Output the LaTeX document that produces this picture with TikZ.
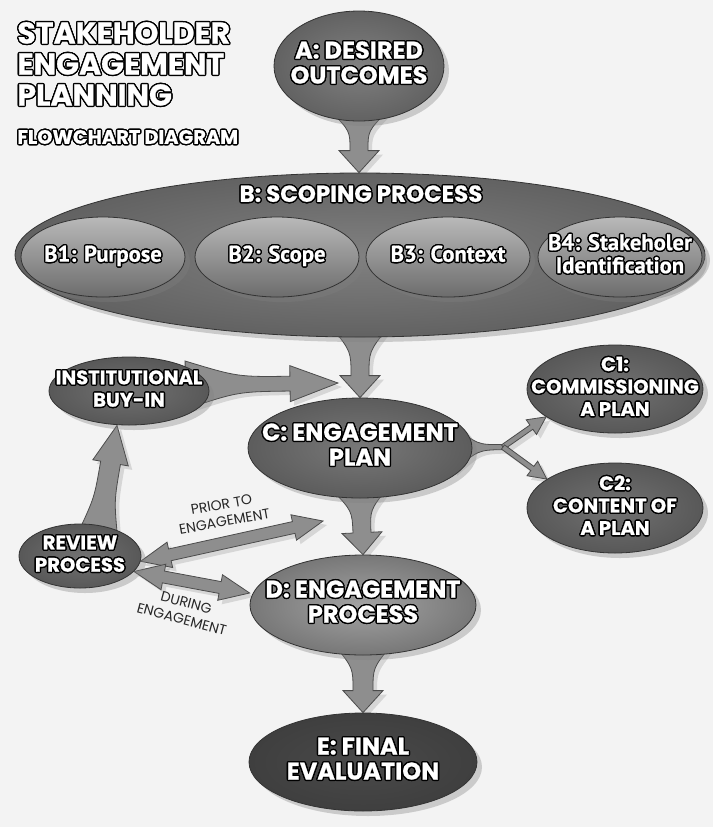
\documentclass[tikz,border=0pt]{standalone}
\usepackage{fontspec}
\newfontfamily\headfont{Poppins}[BoldFeatures={FakeBold=0.8}]
\newfontfamily\condfont{PT Sans}[BoldFeatures={FakeBold=0.8}]
\usetikzlibrary{calc,shapes.geometric,shadows,backgrounds}
\pgfdeclarelayer{paper}
\pgfsetlayers{paper,background,main}

\definecolor{papergray}{HTML}{F3F3F3}
\definecolor{midgray}{HTML}{8C8C8C}
\definecolor{plangray}{HTML}{848484}
\definecolor{sidegray}{HTML}{7E7E7E}
\definecolor{lightgray}{HTML}{ABABAB}
\definecolor{darkgray}{HTML}{5A5A5A}
\definecolor{arrowgray}{HTML}{8E8E8E}

% white letters with a black rim
\newsavebox\olbox
\newsavebox\olsize
\newcommand\rim[2][c]{%
  \sbox\olbox{\color{black}\begin{tabular}{@{}#1@{}}#2\end{tabular}}%
  \foreach \ang in {0,30,...,330}{%
    \pgfmathsetlengthmacro\olx{0.7pt*cos(\ang)}%
    \pgfmathsetlengthmacro\oly{0.7pt*sin(\ang)}%
    \rlap{\hspace*{\olx}\raisebox{\oly}{\usebox\olbox}}}%
  \begin{tabular}{@{}#1@{}}#2\end{tabular}}
% same, but takes no room, so the bubble keeps its size
\newcommand\olab[1]{%
  \sbox\olsize{\begin{tabular}{@{}c@{}}#1\end{tabular}}%
  \makebox[0pt]{\raisebox{\dimexpr(\dp\olsize-\ht\olsize)/2\relax}[0pt][0pt]{\rim{#1}}}}

\tikzset{
  tailarrow/.style n args={4}{to path={
    let \p1=(\tikztostart), \p2=(\tikztotarget),
        \p3=($(\p2)!#4!(\p1)$), \p4=($(\p1)!.5!(\p3)$) in
    ($(\p1)!#1!90:(\p2)$) .. controls ($(\p4)!#2!90:(\p2)$) .. ($(\p3)!#2!90:(\p2)$)
    -- ($(\p3)!#3!90:(\p2)$) -- (\p2) -- ($(\p3)!#3!-90:(\p2)$) -- ($(\p3)!#2!-90:(\p2)$)
    .. controls ($(\p4)!#2!-90:(\p2)$) .. ($(\p1)!#1!-90:(\p2)$) -- cycle}},
  twoway/.style n args={3}{to path={
    let \p1=(\tikztostart), \p2=(\tikztotarget),
        \p3=($(\p1)!#3!(\p2)$), \p4=($(\p2)!#3!(\p1)$) in
    (\p1) -- ($(\p3)!#2!90:(\p2)$) -- ($(\p3)!#1!90:(\p2)$) -- ($(\p4)!#1!90:(\p2)$)
    -- ($(\p4)!#2!90:(\p2)$) -- (\p2) -- ($(\p4)!#2!-90:(\p2)$) -- ($(\p4)!#1!-90:(\p2)$)
    -- ($(\p3)!#1!-90:(\p2)$) -- ($(\p3)!#2!-90:(\p2)$) -- cycle}},
  taper/.style n args={2}{to path={
    let \p1=(\tikztostart), \p2=(\tikztotarget), \p4=($(\p1)!.5!(\p2)$) in
    ($(\p1)!#1!90:(\p2)$) .. controls ($(\p4)!#2!90:(\p2)$) .. ($(\p2)!#2!-90:(\p1)$)
    -- ($(\p2)!#2!90:(\p1)$) .. controls ($(\p4)!#2!-90:(\p2)$) .. ($(\p1)!#1!-90:(\p2)$) -- cycle}}
}

\begin{document}
\begin{tikzpicture}[x=0.5pt,y=-0.5pt,
  bubble/.style={ellipse,draw=black!80,line width=0.4pt,inner sep=0pt,
    inner color=#1!110,outer color=#1!70!black,text=white,
    font=\headfont\bfseries\fontsize{12pt}{12.5pt}\selectfont,
    drop shadow={opacity=0.35,shadow xshift=2.5pt,shadow yshift=-2.5pt}},
  bubble/.default=midgray,
  part/.style={bubble,top color=gray!55,bottom color=gray!85!black,
    minimum width=82pt,minimum height=40pt,
    font=\condfont\bfseries\fontsize{11.3pt}{11.5pt}\selectfont},
  small/.style={font=\headfont\bfseries\fontsize{9.8pt}{11.2pt}\selectfont},
  flow/.style={fill=arrowgray,draw=black!70,line width=0.4pt,
    drop shadow={opacity=0.25,shadow xshift=2pt,shadow yshift=-2pt}},
  head/.style={anchor=north west,inner sep=0pt,text=white,
    font=\headfont\bfseries\fontsize{15pt}{15.5pt}\selectfont},
  note/.style={align=center,text=black!85,inner sep=0pt,
    font=\headfont\fontsize{7pt}{8.6pt}\selectfont}]

\begin{pgfonlayer}{paper}
\fill[papergray] (0,0) rectangle (713,827);
\end{pgfonlayer}
\useasboundingbox (0,0) rectangle (713,827);

\node[head] (title) at (17,20) {\rim[l]{STAKEHOLDER\\ENGAGEMENT\\PLANNING}};
\node[head,font=\headfont\bfseries\fontsize{9.7pt}{10pt}\selectfont] (subtitle) at (17,128) {\rim{FLOWCHART DIAGRAM}};

\node[bubble,minimum width=85pt,minimum height=55pt] (A) at (359,66) {\olab{A: DESIRED\\OUTCOMES}};

\node[bubble,minimum width=345pt,minimum height=82pt] (B) at (360,255) {};
\node[text=white,font=\headfont\bfseries\fontsize{11.5pt}{12pt}\selectfont] (Btitle) at (361,197) {\olab{B: SCOPING PROCESS}};
\node[part] (B1) at (103,257) {\olab{B1: Purpose}};
\node[part] (B2) at (277,257) {\olab{B2: Scope}};
\node[part] (B3) at (448,257) {\olab{B3: Context}};
\node[part] (B4) at (620,257) {\olab{B4: Stakeholer\\Identification}};

\node[bubble=plangray,minimum width=112pt,minimum height=50pt] (C) at (360,448) {\olab{C: ENGAGEMENT\\PLAN}};
\node[bubble=sidegray,small,minimum width=80pt,minimum height=34pt] (Inst) at (129,391) {\olab{INSTITUTIONAL\\BUY-IN}};
\node[bubble=sidegray,small,minimum width=88pt,minimum height=44pt] (C1) at (615,389) {\olab{C1:\\COMMISSIONING\\A PLAN}};
\node[bubble=sidegray,small,minimum width=88pt,minimum height=45pt] (C2) at (615,508) {\olab{C2:\\CONTENT OF\\A PLAN}};
\node[bubble=sidegray,small,minimum width=61pt,minimum height=32pt] (Review) at (80,556) {\olab{REVIEW\\PROCESS}};
\node[bubble=lightgray,minimum width=113pt,minimum height=50pt] (D) at (363,605) {\olab{D: ENGAGEMENT\\PROCESS}};
\node[bubble=darkgray,minimum width=114pt,minimum height=49pt] (E) at (363,762) {\olab{E: FINAL\\EVALUATION}};

\node[note,rotate=10] (prior) at (223,513) {PRIOR TO\\ENGAGEMENT};
\node[note,rotate=-15] (during) at (184,611) {DURING\\ENGAGEMENT};

\coordinate (buyinend) at (338,383);
\coordinate (prioend) at (323,521);
\coordinate (fork) at (503,447);

\begin{pgfonlayer}{background}
\draw[flow,tailarrow={14pt}{4.5pt}{10pt}{11pt}] ([yshift=5pt]A.south) to (A.south |- B.north);
\draw[flow,tailarrow={14pt}{4.5pt}{10pt}{11pt}] ([yshift=5pt]B.south) to (B.south |- C.north);
\draw[flow,tailarrow={14pt}{4.5pt}{10pt}{11pt}] ([yshift=5pt]C.south) to (D.north);
\draw[flow,tailarrow={14pt}{5pt}{10pt}{11pt}] ([yshift=5pt]D.south) to (E.north);
\draw[flow,tailarrow={12pt}{3.7pt}{9pt}{24pt}] ([xshift=-12pt,yshift=3pt]Inst.east) to (buyinend);
\draw[flow,tailarrow={10pt}{5pt}{9pt}{19pt}] ([xshift=9pt,yshift=-6pt]Review.north) to ([xshift=-6pt]Inst.south);
\draw[flow,twoway={3pt}{6.5pt}{15pt}] (Review.-5) to (prioend);
\draw[flow,twoway={3pt}{6.5pt}{15pt}] (Review.-16) to ([yshift=6pt]D.west);
\draw[flow,taper={12pt}{1.3pt}] ([xshift=-10pt]C.east) to (fork);
\draw[flow,tailarrow={1.3pt}{1.3pt}{4.5pt}{9pt}] (fork) to (C1.202);
\draw[flow,tailarrow={1.3pt}{1.3pt}{4.5pt}{9pt}] (fork) to (C2.157);
\end{pgfonlayer}
\end{tikzpicture}
\end{document}
